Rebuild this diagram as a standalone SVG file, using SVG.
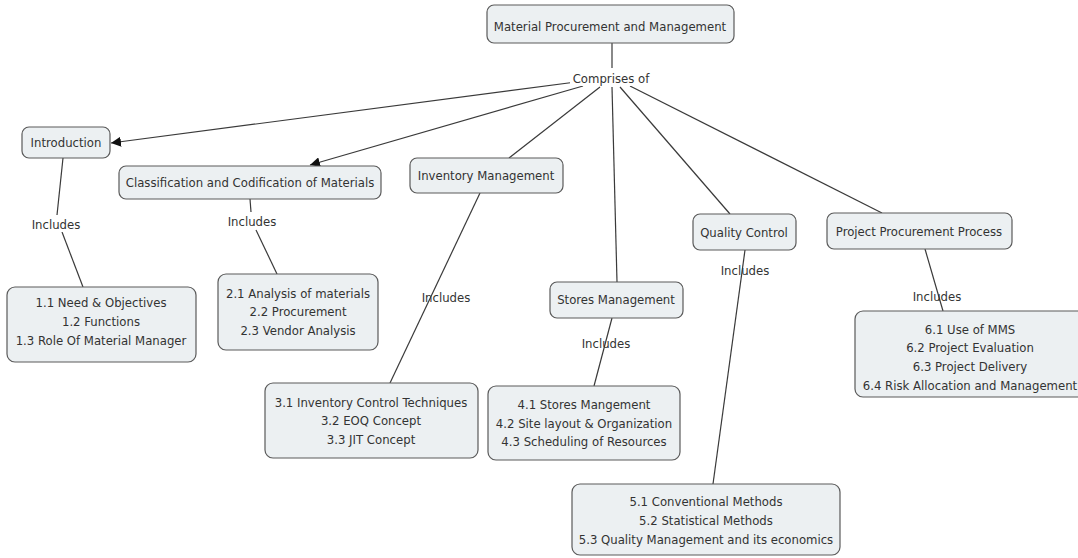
<svg xmlns="http://www.w3.org/2000/svg" width="1078" height="558" viewBox="0 0 1078 558">
<style>
.box{fill:#ecf0f2;stroke:#5a5a5a;stroke-width:1.2}
.t{font-family:"DejaVu Sans Condensed","DejaVu Sans",sans-serif;font-size:13px;fill:#333;text-anchor:middle}
.c{fill:none;stroke:#3a3a3a;stroke-width:1.2}
.lbl{font-family:"DejaVu Sans Condensed","DejaVu Sans",sans-serif;font-size:13px;fill:#333;text-anchor:middle}
</style>
<defs>
<marker id="ah" viewBox="0 0 10 10" refX="10" refY="5" markerWidth="10" markerHeight="10" markerUnits="userSpaceOnUse" orient="auto">
<path d="M0,0 L10,5 L0,10 z" fill="#111"/>
</marker>
</defs>
<rect width="1078" height="558" fill="#fff"/>
<g id="connectors">
<line class="c" x1="612" y1="43" x2="612" y2="68"/>
<line class="c" x1="576" y1="82" x2="111" y2="143" marker-end="url(#ah)"/>
<line class="c" x1="583" y1="86" x2="310" y2="165" marker-end="url(#ah)"/>
<line class="c" x1="600" y1="87" x2="509" y2="158"/>
<line class="c" x1="612" y1="87" x2="617" y2="282"/>
<line class="c" x1="620" y1="87" x2="730" y2="214"/>
<line class="c" x1="630" y1="86" x2="882" y2="213"/>
<line class="c" x1="63" y1="158" x2="57" y2="215"/>
<line class="c" x1="62" y1="232" x2="83" y2="287"/>
<line class="c" x1="250" y1="199" x2="251" y2="212"/>
<line class="c" x1="256" y1="230" x2="277" y2="274"/>
<line class="c" x1="480" y1="193" x2="390" y2="383"/>
<line class="c" x1="612" y1="318" x2="594" y2="386"/>
<line class="c" x1="745" y1="250" x2="713" y2="484"/>
<line class="c" x1="925" y1="249" x2="943" y2="311"/>
</g>
<g id="labels">
<rect x="570" y="70" width="82" height="16" fill="#fff"/>
<text class="lbl" x="611" y="83">Comprises of</text>
<rect x="30" y="216" width="52" height="16" fill="#fff"/>
<text class="lbl" x="56" y="229">Includes</text>
<rect x="226" y="213" width="52" height="16" fill="#fff"/>
<text class="lbl" x="252" y="226">Includes</text>
<text class="lbl" x="446" y="302">Includes</text>
<text class="lbl" x="606" y="348">Includes</text>
<text class="lbl" x="745" y="275">Includes</text>
<text class="lbl" x="937" y="301">Includes</text>
</g>
<g id="n-root"><rect class="box" x="487" y="5" width="247" height="38" rx="7"/><text class="t" x="610" y="31">Material Procurement and Management</text></g>
<g id="n-intro"><rect class="box" x="22" y="127" width="88" height="31" rx="7"/><text class="t" x="66" y="147">Introduction</text></g>
<g id="n-class"><rect class="box" x="119" y="166" width="262" height="33" rx="7"/><text class="t" x="250" y="187">Classification and Codification of Materials</text></g>
<g id="n-inv"><rect class="box" x="410" y="158" width="153" height="35" rx="7"/><text class="t" x="486" y="180">Inventory Management</text></g>
<g id="n-qc"><rect class="box" x="693" y="214" width="103" height="36" rx="7"/><text class="t" x="744" y="237">Quality Control</text></g>
<g id="n-ppp"><rect class="box" x="827" y="213" width="185" height="36" rx="7"/><text class="t" x="919" y="236">Project Procurement Process</text></g>
<g id="n-stores"><rect class="box" x="550" y="282" width="133" height="36" rx="7"/><text class="t" x="616" y="304">Stores Management</text></g>
<g id="n-1"><rect class="box" x="7" y="287" width="189" height="75" rx="8"/>
<text class="t" x="101" y="307">1.1 Need &amp; Objectives</text><text class="t" x="101" y="326">1.2 Functions</text><text class="t" x="101" y="345">1.3 Role Of Material Manager</text></g>
<g id="n-2"><rect class="box" x="218" y="274" width="160" height="76" rx="8"/>
<text class="t" x="298" y="298">2.1 Analysis of materials</text><text class="t" x="298" y="316">2.2 Procurement</text><text class="t" x="298" y="335">2.3 Vendor Analysis</text></g>
<g id="n-3"><rect class="box" x="265" y="383" width="213" height="75" rx="8"/>
<text class="t" x="371" y="407">3.1 Inventory Control Techniques</text><text class="t" x="371" y="425">3.2 EOQ Concept</text><text class="t" x="371" y="444">3.3 JIT Concept</text></g>
<g id="n-4"><rect class="box" x="488" y="386" width="192" height="74" rx="8"/>
<text class="t" x="584" y="409">4.1 Stores Mangement</text><text class="t" x="584" y="428">4.2 Site layout &amp; Organization</text><text class="t" x="584" y="446">4.3 Scheduling of Resources</text></g>
<g id="n-5"><rect class="box" x="572" y="484" width="268" height="71" rx="8"/>
<text class="t" x="706" y="506">5.1 Conventional Methods</text><text class="t" x="706" y="525">5.2 Statistical Methods</text><text class="t" x="706" y="544">5.3 Quality Management and its economics</text></g>
<g id="n-6"><rect class="box" x="855" y="311" width="240" height="86" rx="8"/>
<text class="t" x="970" y="334">6.1 Use of MMS</text><text class="t" x="970" y="352">6.2 Project Evaluation</text><text class="t" x="970" y="371">6.3 Project Delivery</text><text class="t" x="970" y="390">6.4 Risk Allocation and Management</text></g>
</svg>
